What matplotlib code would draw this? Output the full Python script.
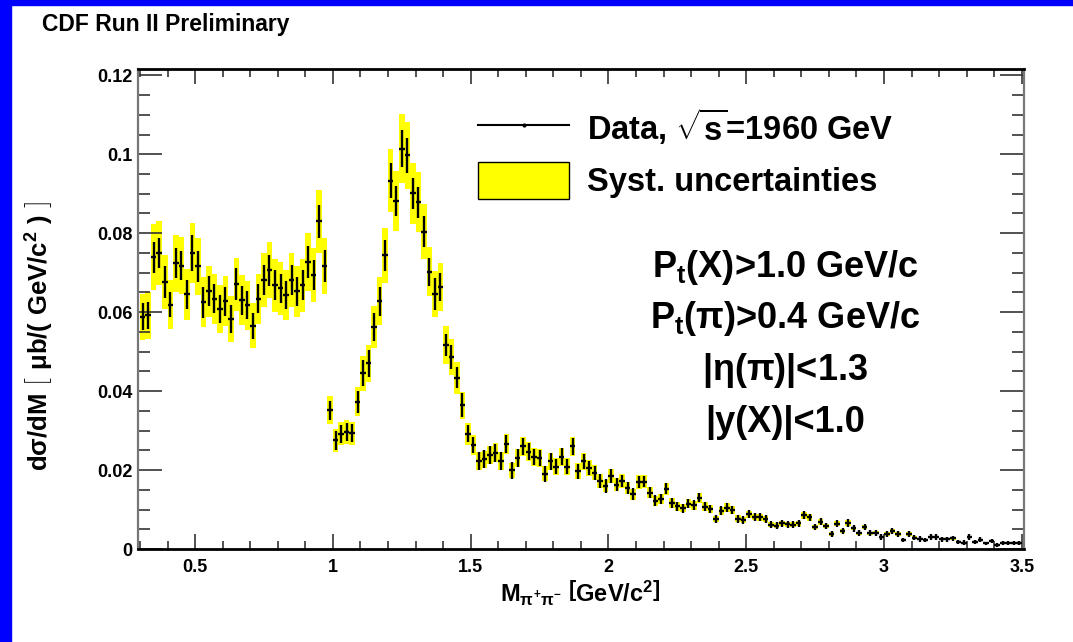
import matplotlib
matplotlib.use('Agg')
import matplotlib.pyplot as plt
import numpy as np
from matplotlib.ticker import MultipleLocator, FuncFormatter
from matplotlib.lines import Line2D
from matplotlib.patches import Patch, Rectangle

plt.rcParams['font.family'] = ['Liberation Sans', 'DejaVu Sans']
plt.rcParams['font.weight'] = 'bold'
plt.rcParams['mathtext.fontset'] = 'custom'
plt.rcParams['mathtext.rm'] = 'Liberation Sans:bold'
plt.rcParams['mathtext.it'] = 'Liberation Sans:bold'
plt.rcParams['mathtext.bf'] = 'Liberation Sans:bold'

# bins of 20 MeV from 0.30 to 3.50 GeV/c^2
bin_width = 0.02
mass = np.arange(0.31, 3.5, bin_width)

# d(sigma)/dM [mub/(GeV/c^2)]
dsdm = [0.0588, 0.0592, 0.0739, 0.0750, 0.0676, 0.0619, 0.0724, 0.0718, 0.0645, 0.0750,
        0.0716, 0.0625, 0.0653, 0.0634, 0.0608, 0.0628, 0.0583, 0.0671, 0.0630, 0.0618,
        0.0565, 0.0634, 0.0682, 0.0706, 0.0668, 0.0660, 0.0643, 0.0681, 0.0653, 0.0668,
        0.0727, 0.0694, 0.0830, 0.0717, 0.0352, 0.0275, 0.0292, 0.0297, 0.0293, 0.0373,
        0.0445, 0.0470, 0.0562, 0.0628, 0.0744, 0.0933, 0.0882, 0.1014, 0.0997, 0.0901,
        0.0878, 0.0804, 0.0702, 0.0646, 0.0664, 0.0517, 0.0487, 0.0434, 0.0364, 0.0292,
        0.0264, 0.0223, 0.0227, 0.0239, 0.0244, 0.0223, 0.0266, 0.0199, 0.0231, 0.0260,
        0.0247, 0.0233, 0.0231, 0.0191, 0.0222, 0.0209, 0.0234, 0.0209, 0.0260, 0.0197,
        0.0222, 0.0205, 0.0193, 0.0172, 0.0160, 0.0185, 0.0163, 0.0172, 0.0155, 0.0139,
        0.0170, 0.0171, 0.0142, 0.0122, 0.0126, 0.0153, 0.0117, 0.0108, 0.0103, 0.0115,
        0.0111, 0.0130, 0.0107, 0.0101, 0.0076, 0.0097, 0.0105, 0.0098, 0.0077, 0.0073,
        0.0088, 0.0081, 0.0080, 0.0076, 0.0062, 0.0059, 0.0065, 0.0063, 0.0062, 0.0065,
        0.0086, 0.0080, 0.0056, 0.0069, 0.0058, 0.0038, 0.0064, 0.0046, 0.0066, 0.0052,
        0.0040, 0.0056, 0.0040, 0.0041, 0.0031, 0.0038, 0.0046, 0.0038, 0.0023, 0.0038,
        0.0029, 0.0025, 0.0023, 0.0031, 0.0031, 0.0025, 0.0025, 0.0027, 0.0018, 0.0016,
        0.0031, 0.0018, 0.0024, 0.0014, 0.0020, 0.0010, 0.0016, 0.0016, 0.0016, 0.0016]

# statistical errors
stat = [0.0034, 0.0035, 0.0039, 0.0039, 0.0040, 0.0032, 0.0038, 0.0037, 0.0036, 0.0046,
        0.0040, 0.0039, 0.0038, 0.0037, 0.0036, 0.0037, 0.0035, 0.0040, 0.0037, 0.0036,
        0.0034, 0.0037, 0.0038, 0.0039, 0.0038, 0.0037, 0.0036, 0.0038, 0.0037, 0.0038,
        0.0040, 0.0039, 0.0042, 0.0040, 0.0024, 0.0023, 0.0023, 0.0023, 0.0023, 0.0028,
        0.0033, 0.0033, 0.0035, 0.0037, 0.0039, 0.0045, 0.0038, 0.0047, 0.0045, 0.0040,
        0.0039, 0.0040, 0.0036, 0.0041, 0.0036, 0.0028, 0.0031, 0.0026, 0.0030, 0.0022,
        0.0021, 0.0023, 0.0023, 0.0023, 0.0023, 0.0022, 0.0023, 0.0022, 0.0022, 0.0022,
        0.0021, 0.0021, 0.0021, 0.0020, 0.0021, 0.0020, 0.0021, 0.0020, 0.0021, 0.0019,
        0.0019, 0.0018, 0.0018, 0.0017, 0.0017, 0.0017, 0.0016, 0.0016, 0.0016, 0.0015,
        0.0015, 0.0014, 0.0014, 0.0014, 0.0013, 0.0014, 0.0013, 0.0012, 0.0012, 0.0012,
        0.0012, 0.0012, 0.0011, 0.0011, 0.0010, 0.0011, 0.0011, 0.0010, 0.0010, 0.0010,
        0.0010, 0.0010, 0.0010, 0.0010, 0.0009, 0.0009, 0.0009, 0.0009, 0.0009, 0.0009,
        0.0010, 0.0009, 0.0008, 0.0009, 0.0008, 0.0008, 0.0009, 0.0008, 0.0009, 0.0008,
        0.0008, 0.0008, 0.0008, 0.0008, 0.0007, 0.0008, 0.0008, 0.0008, 0.0006, 0.0008,
        0.0007, 0.0007, 0.0006, 0.0007, 0.0007, 0.0006, 0.0006, 0.0006, 0.0006, 0.0006,
        0.0007, 0.0006, 0.0006, 0.0005, 0.0006, 0.0005, 0.0005, 0.0005, 0.0005, 0.0005]

# systematic uncertainties (yellow band half height)
syst = [0.0059, 0.0060, 0.0084, 0.0080, 0.0068, 0.0062, 0.0072, 0.0072, 0.0065, 0.0075,
        0.0072, 0.0063, 0.0065, 0.0063, 0.0061, 0.0063, 0.0058, 0.0067, 0.0063, 0.0062,
        0.0057, 0.0063, 0.0068, 0.0071, 0.0067, 0.0066, 0.0064, 0.0068, 0.0065, 0.0067,
        0.0073, 0.0069, 0.0080, 0.0072, 0.0036, 0.0028, 0.0029, 0.0030, 0.0029, 0.0037,
        0.0044, 0.0047, 0.0054, 0.0060, 0.0070, 0.0080, 0.0076, 0.0087, 0.0085, 0.0078,
        0.0076, 0.0070, 0.0062, 0.0058, 0.0060, 0.0048, 0.0045, 0.0041, 0.0035, 0.0028,
        0.0025, 0.0022, 0.0022, 0.0023, 0.0024, 0.0022, 0.0026, 0.0020, 0.0023, 0.0025,
        0.0024, 0.0023, 0.0023, 0.0019, 0.0022, 0.0021, 0.0023, 0.0021, 0.0025, 0.0020,
        0.0022, 0.0020, 0.0019, 0.0017, 0.0016, 0.0018, 0.0016, 0.0017, 0.0015, 0.0014,
        0.0017, 0.0017, 0.0014, 0.0012, 0.0013, 0.0015, 0.0012, 0.0011, 0.0010, 0.0012,
        0.0011, 0.0013, 0.0011, 0.0010, 0.0008, 0.0010, 0.0011, 0.0010, 0.0008, 0.0007,
        0.0009, 0.0008, 0.0008, 0.0008, 0.0006, 0.0006, 0.0007, 0.0006, 0.0006, 0.0007,
        0.0009, 0.0008, 0.0006, 0.0007, 0.0006, 0.0004, 0.0006, 0.0005, 0.0007, 0.0005,
        0.0004, 0.0006, 0.0004, 0.0004, 0.0003, 0.0004, 0.0005, 0.0004, 0.0002, 0.0004,
        0.0003, 0.0003, 0.0002, 0.0003, 0.0003, 0.0003, 0.0003, 0.0003, 0.0002, 0.0002,
        0.0003, 0.0002, 0.0002, 0.0001, 0.0002, 0.0001, 0.0002, 0.0002, 0.0002, 0.0002]

cuts = [r'P$_{t}$(X)>1.0 GeV/c', r'P$_{t}$($\pi$)>0.4 GeV/c', r'|$\eta$($\pi$)|<1.3', r'|y(X)|<1.0']

dsdm = np.array(dsdm)
syst = np.array(syst)

W, H = 1073, 642
fig = plt.figure(figsize=(W / 100, H / 100), dpi=100)
ax = fig.add_axes([138.3 / W, 1 - 549 / H, (1024.3 - 138.3) / W, (549 - 69) / H])

# yellow systematic boxes, then data points with stat errors
ax.bar(mass, 2 * syst, bottom=dsdm - syst, width=bin_width, color='#ffff00', linewidth=0, zorder=1)
ax.errorbar(mass, dsdm, yerr=stat, xerr=bin_width / 2, fmt='none', ecolor='black',
            elinewidth=1.7, capsize=0, zorder=3)

ax.set_xlim(0.294, 3.509)
ax.set_ylim(0, 0.1216)
ax.xaxis.set_major_locator(MultipleLocator(0.5))
ax.xaxis.set_minor_locator(MultipleLocator(0.1))
ax.yaxis.set_major_locator(MultipleLocator(0.02))
ax.yaxis.set_minor_locator(MultipleLocator(0.005))
ax.yaxis.set_major_formatter(FuncFormatter(lambda v, p: '%g' % round(v, 3)))
ax.xaxis.set_major_formatter(FuncFormatter(lambda v, p: '%g' % round(v, 2)))

ax.tick_params(which='both', direction='in', top=True, right=True, colors='#333333',
               labelcolor='black', labelsize=13, width=1.2)
ax.tick_params(axis='y', which='major', length=17, pad=4)
ax.tick_params(axis='y', which='minor', length=8.5)
ax.tick_params(axis='x', which='major', length=11, pad=7)
ax.tick_params(axis='x', which='minor', length=5.5)

for s in ['top', 'bottom']:
    ax.spines[s].set_linewidth(2)
    ax.spines[s].set_color('black')
for s in ['left', 'right']:
    ax.spines[s].set_linewidth(1.6)
    ax.spines[s].set_color('#777777')

# axis titles
fig.text(40 / W, 1 - 336 / H,
         r'd$\sigma$/dM $\left[\ \mathrm{\mu b/(\ GeV/c^{2}\ )}\ \right]$',
         rotation=90, ha='center', va='center', fontsize=18.5)
fig.text(580 / W, 1 - 593 / H, r'M$_{\pi^{+}\pi^{-}}$ $\left[\mathrm{GeV/c^{2}}\right]$',
         ha='center', va='center', fontsize=17)

fig.text(42 / W, 1 - 24 / H, 'CDF Run II Preliminary', ha='left', va='center', fontsize=16.5)

# legend
h_data = Line2D([], [], color='black', lw=1.5, marker='o', ms=2)
h_sys = Patch(facecolor='#ffff00', edgecolor='black', linewidth=1)
ax.legend([h_data, h_sys], [r'Data, $\sqrt{s}$=1960 GeV', 'Syst. uncertainties'],
          loc='upper left', bbox_to_anchor=(478 / W, 1 - 106 / H), bbox_transform=fig.transFigure,
          frameon=False, fontsize=23.5, handlelength=2.8, handleheight=1.35,
          handletextpad=0.55, labelspacing=0.45, borderpad=0, borderaxespad=0)

# selection cuts
for i, txt in enumerate(cuts):
    fig.text(785 / W, 1 - (277 + 51.5 * i) / H, txt, ha='center', va='baseline', fontsize=26)

# blue frame on left and top
fig.add_artist(Rectangle((0, 0), 11 / W, 1, transform=fig.transFigure, color='#0000ff', zorder=10))
fig.add_artist(Rectangle((0, 1 - 5 / H), 1, 5 / H, transform=fig.transFigure, color='#0000ff', zorder=10))

fig.savefig('out.png', dpi=100)
